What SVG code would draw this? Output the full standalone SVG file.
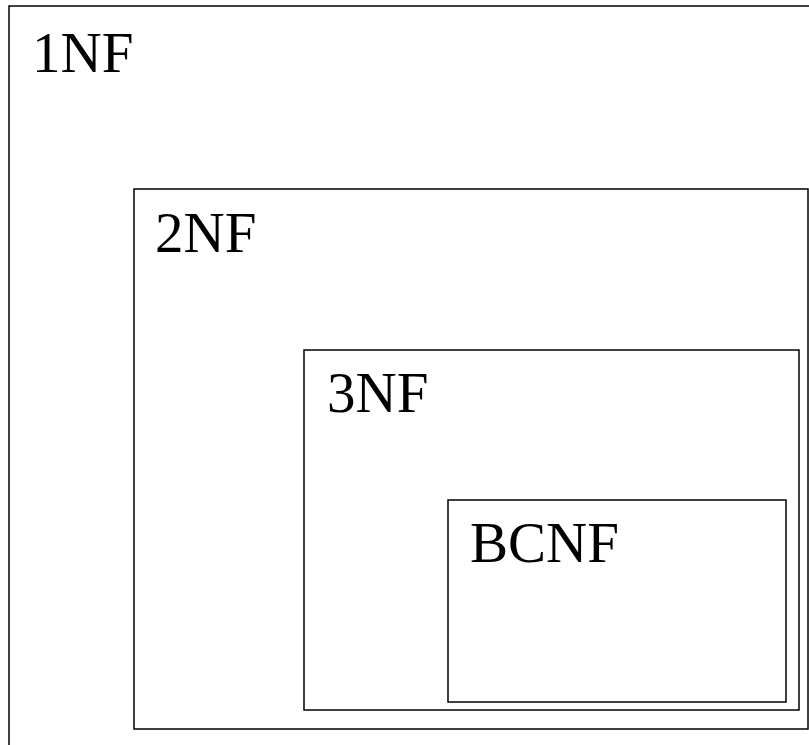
<svg xmlns="http://www.w3.org/2000/svg" width="809" height="745" viewBox="0 0 809 745">
<style>
rect{fill:none;stroke:#000;stroke-width:1.5}
text{font-family:"Liberation Serif",serif;font-size:57px;fill:#000}
</style>
<rect x="0" y="0" width="809" height="745" fill="#fff" style="fill:#fff;stroke:none"/>
<g id="n1NF"><rect x="9" y="6" width="820" height="760"/><text x="32" y="72">1NF</text></g>
<g id="n2NF"><rect x="134" y="189" width="674" height="540"/><text x="155" y="252">2NF</text></g>
<g id="n3NF"><rect x="304" y="350" width="495" height="360"/><text x="327" y="412">3NF</text></g>
<g id="nBCNF"><rect x="448" y="500" width="338" height="202"/><text x="470" y="562">BCNF</text></g>
<g id="connectors"/>
</svg>
